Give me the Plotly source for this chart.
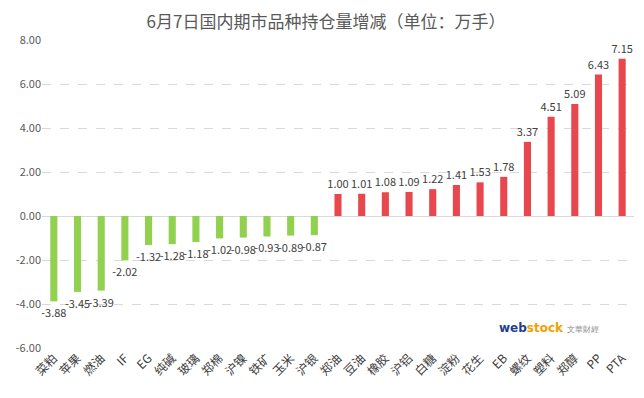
import plotly.graph_objects as go

categories = ["菜粕", "苹果", "燃油", "IF", "EG", "纯碱", "玻璃", "郑棉", "沪镍", "铁矿", "玉米", "沪银",
              "郑油", "豆油", "橡胶", "沪铝", "白糖", "淀粉", "花生", "EB", "螺纹", "塑料", "郑醇", "PP", "PTA"]
values = [-3.88, -3.45, -3.39, -2.02, -1.32, -1.28, -1.18, -1.02, -0.98, -0.93, -0.89, -0.87,
          1.00, 1.01, 1.08, 1.09, 1.22, 1.41, 1.53, 1.78, 3.37, 4.51, 5.09, 6.43, 7.15]
tick_vals = [-6, -4, -2, 0, 2, 4, 6, 8]
tick_text = ["-6.00", "-4.00", "-2.00", "0.00", "2.00", "4.00", "6.00", "8.00"]

colors = ["#92D050" if v < 0 else "#E8474E" for v in values]

fig = go.Figure(go.Bar(
    x=categories, y=values,
    marker=dict(color=colors, line=dict(width=0)),
    text=[f"{v:.2f}" for v in values],
    textposition="outside",
    constraintext="none",
    textfont=dict(size=11, color="#404040"),
    cliponaxis=False,
))

fig.update_layout(
    width=636, height=390,
    margin=dict(l=34, r=10, t=32, b=50, autoexpand=False),
    paper_bgcolor="white", plot_bgcolor="white",
    font=dict(family="Noto Sans CJK SC, Microsoft YaHei, sans-serif", color="#595959"),
    title=dict(text="6月7日国内期市品种持仓量增减（单位：万手）", x=0.5, xanchor="center",
               y=0.964, yanchor="middle", font=dict(size=17, color="#595959")),
    bargap=0.7,
    showlegend=False,
    annotations=[dict(
        x=0.945, y=0.065, xref="paper", yref="paper", showarrow=False,
        text="<b><span style='color:#1F3F8F'>web</span><span style='color:#F5A000'>stock</span></b>"
             " <span style='color:#888888;font-size:8px'>文華財經</span>",
        font=dict(size=12, family="DejaVu Sans"), xanchor="right", yanchor="middle")],
)
fig.update_yaxes(range=[-6, 8], tickvals=tick_vals, ticktext=tick_text, automargin=False,
                 showgrid=True, gridcolor="#D9D9D9", griddash="dash", gridwidth=1,
                 zeroline=True, zerolinecolor="#D9D9D9", zerolinewidth=1,
                 tickfont=dict(size=11, color="#595959"), ticks="", showline=False)
fig.update_xaxes(tickangle=-45, tickfont=dict(size=12, color="#404040"), showgrid=False,
                 automargin=False, showline=False, ticks="")

fig.write_html("out.html")
